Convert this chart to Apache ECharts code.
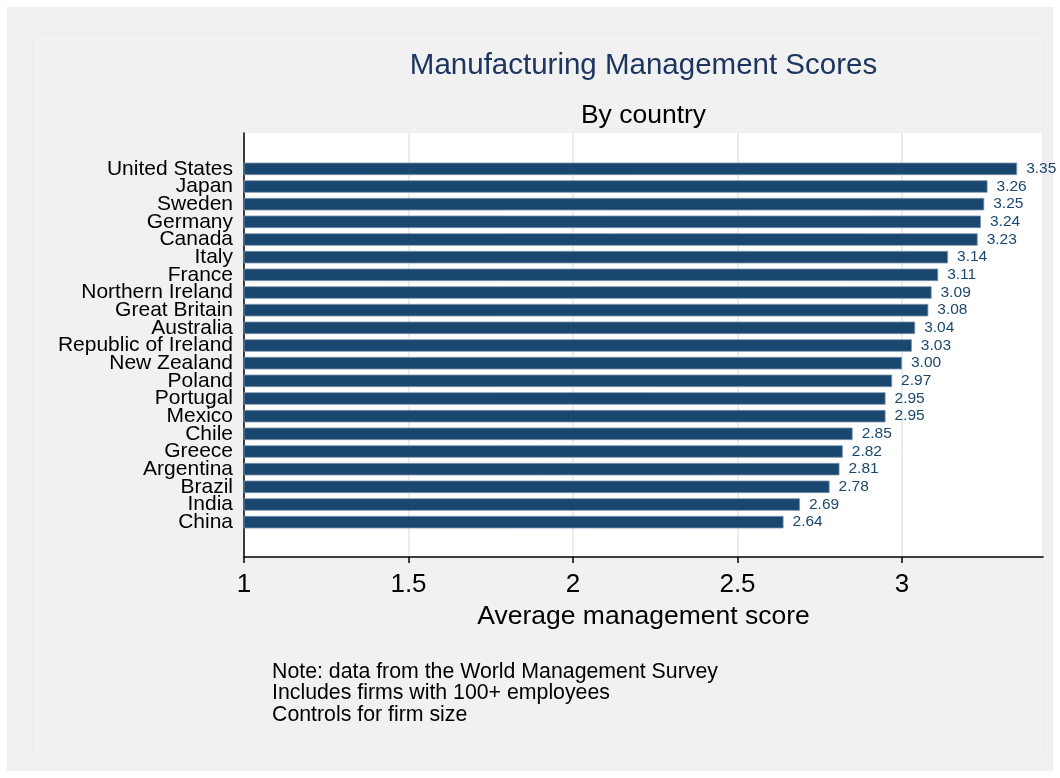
<!DOCTYPE html>
<html>
<head>
<meta charset="utf-8">
<script src="https://cdn.jsdelivr.net/npm/echarts@6/dist/echarts.min.js"></script>
<style>html,body{margin:0;padding:0;background:#fff}#c{width:1060px;height:778px}</style>
</head>
<body>
<div id="c"></div>
<script>
const countries = ["United States","Japan","Sweden","Germany","Canada","Italy","France","Northern Ireland","Great Britain","Australia","Republic of Ireland","New Zealand","Poland","Portugal","Mexico","Chile","Greece","Argentina","Brazil","India","China"];
const scores = [3.35,3.26,3.25,3.24,3.23,3.14,3.11,3.09,3.08,3.04,3.03,3.00,2.97,2.95,2.95,2.85,2.82,2.81,2.78,2.69,2.64];
const xTicks = [1, 1.5, 2, 2.5, 3];
const noteLines = ["Note: data from the World Management Survey","Includes firms with 100+ employees","Controls for firm size"];
const titleText = "Manufacturing Management Scores";
const subtitleText = "By country";
const xAxisName = "Average management score";

const FONT = "Liberation Sans, Arial, Helvetica, sans-serif";
const NAVY = "#1a476f";
const XMIN = 1, XMAX = 3.4286;

const chart = echarts.init(document.getElementById('c'), null, {renderer:'canvas'});
chart.setOption({
  backgroundColor: '#ffffff',
  animation: false,
  graphic: [
    {type:'rect', z:-10, shape:{x:7,y:7,width:1046,height:764}, style:{fill:'#f0f0f0'}},
    {type:'rect', z:-9, shape:{x:33,y:33,width:1010,height:720}, style:{fill:'#f1f1f1', stroke:'#eaeeee', lineWidth:1}}
  ],
  title: [
    {text: titleText, left: 643.5, textAlign:'center', top: 51, padding:0,
     textStyle:{fontFamily:FONT, fontSize:29.5, fontWeight:'normal', color:'#1e3560'}},
    {text: subtitleText, left: 643.5, textAlign:'center', top: 102, padding:0,
     textStyle:{fontFamily:FONT, fontSize:26.5, fontWeight:'normal', color:'#000'}},
    {text: noteLines.join('\n'), left: 272, top: 661, padding:0,
     textStyle:{fontFamily:FONT, fontSize:21.3, fontWeight:'normal', color:'#000', lineHeight:21.5}}
  ],
  grid: [
    {left:244, right:17, top:160, height:371, containLabel:false},
    {left:244, right:17, top:133, bottom:221, show:true, backgroundColor:'#ffffff', borderWidth:0, z:-1}
  ],
  xAxis: [
    {type:'value', gridIndex:0, min:XMIN, max:XMAX, show:false},
    {type:'value', gridIndex:1, min:XMIN, max:XMAX, interval:0.5,
     axisLine:{show:true, onZero:false, lineStyle:{color:'#000', width:1.5}},
     axisTick:{show:true, length:6, lineStyle:{color:'#000', width:1.5}},
     axisLabel:{fontFamily:FONT, fontSize:26, color:'#000', margin:15,
       formatter: v => xTicks.includes(Math.round(v*100)/100) ? String(v) : '',
       showMaxLabel:false},
     splitLine:{show:true, lineStyle:{color:'#e7eef2', width:2}},
     name: xAxisName, nameLocation:'middle', nameGap:45,
     nameTextStyle:{fontFamily:FONT, fontSize:26.5, color:'#000'}}
  ],
  yAxis: [
    {type:'category', gridIndex:0, data:countries, inverse:true,
     axisLine:{show:false}, axisTick:{show:false},
     axisLabel:{interval:0, fontFamily:FONT, fontSize:21, color:'#000', margin:11}},
    {type:'value', gridIndex:1, min:0, max:1,
     axisLine:{show:true, lineStyle:{color:'#000', width:1.5}},
     axisTick:{show:false}, axisLabel:{show:false}, splitLine:{show:false}}
  ],
  series: [
    {type:'bar', xAxisIndex:0, yAxisIndex:0, data:scores, barWidth:12.5,
     itemStyle:{color:NAVY, borderColor:'#7f97ae', borderWidth:0.8},
     label:{show:true, position:'right', distance:9, fontFamily:FONT, fontSize:15.5, color:NAVY,
       formatter: p => p.value.toFixed(2)}}
  ]
});
</script>
</body>
</html>
